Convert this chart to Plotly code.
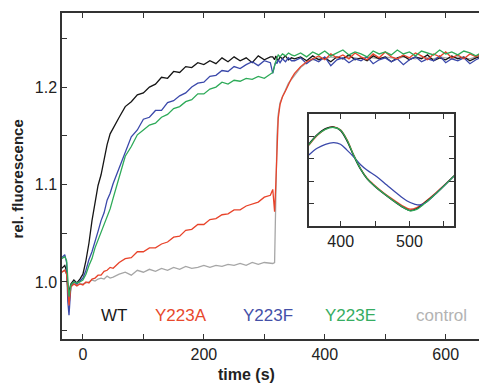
import plotly.graph_objects as go

# time axis (s)
time_s = [-35, -30, -27, -25, -23, -20, -15, -10, -5, 0, 5, 10, 15, 20, 25, 30, 35, 40, 45, 50,
          60, 70, 80, 90, 100, 110, 120, 130, 140, 150, 160, 170, 180, 190, 200, 210, 220, 230, 240, 250,
          260, 270, 280, 290, 300, 310,
          314, 317, 319, 321, 323, 326, 330, 335, 340, 345,
          350, 360, 370, 380, 390, 400, 410, 420, 430, 440, 450, 460, 470, 480, 490, 500, 510, 520, 530,
          540, 550, 560, 570, 580, 590, 600, 610, 620, 630, 640, 650, 660, 665]

wt = [1.014, 1.017, 1.011, 0.995, 0.99, 0.998, 1.002, 0.999, 1.003, 1.008, 1.022, 1.04, 1.063, 1.08, 1.099, 1.11, 1.127, 1.141, 1.152, 1.158,
      1.169, 1.18, 1.185, 1.192, 1.194, 1.2, 1.203, 1.21, 1.209, 1.216, 1.215, 1.221, 1.22, 1.225, 1.223, 1.227, 1.224, 1.23, 1.226, 1.231,
      1.227, 1.23, 1.225, 1.232, 1.228, 1.231,
      1.231, 1.228, 1.232, 1.229, 1.227, 1.231, 1.229, 1.232, 1.228, 1.23,
      1.229, 1.231, 1.227, 1.232, 1.228, 1.23, 1.226, 1.231, 1.229, 1.233, 1.228, 1.23, 1.227, 1.232, 1.229, 1.231, 1.226, 1.23, 1.232,
      1.228, 1.231, 1.229, 1.233, 1.227, 1.23, 1.228, 1.232, 1.229, 1.231, 1.227, 1.23, 1.232, 1.229]

y223a = [1.01, 1.012, 1.008, 0.99, 0.976, 0.995, 0.998, 0.996, 0.998, 0.997, 1.0, 0.999, 1.003, 1.004, 1.007, 1.007, 1.011, 1.012, 1.015, 1.014,
         1.02, 1.024, 1.025, 1.031, 1.031, 1.035, 1.035, 1.039, 1.041, 1.046, 1.047, 1.053, 1.054, 1.059, 1.059, 1.064, 1.065, 1.069, 1.07, 1.074,
         1.074, 1.078, 1.08, 1.082, 1.087, 1.089,
         1.095, 1.072, 1.1, 1.14, 1.168, 1.182, 1.19, 1.196, 1.203, 1.209,
         1.214, 1.221, 1.226, 1.229, 1.232, 1.228, 1.234, 1.23, 1.233, 1.229, 1.235, 1.231, 1.228, 1.234, 1.23, 1.236, 1.231, 1.229, 1.233,
         1.23, 1.235, 1.232, 1.228, 1.234, 1.231, 1.236, 1.23, 1.233, 1.229, 1.234, 1.231, 1.235, 1.232]

y223f = [1.025, 1.028, 1.02, 0.98, 0.966, 0.995, 1.0, 0.998, 1.001, 1.004, 1.012, 1.023, 1.031, 1.043, 1.052, 1.063, 1.071, 1.084, 1.091, 1.101,
         1.117, 1.133, 1.149, 1.156, 1.167, 1.169, 1.176, 1.176, 1.184, 1.186, 1.191, 1.194, 1.2, 1.204, 1.205, 1.211, 1.212, 1.217, 1.216, 1.221,
         1.219, 1.223, 1.226, 1.222, 1.227, 1.225,
         1.214, 1.222, 1.226, 1.224, 1.228, 1.225, 1.229, 1.226, 1.23, 1.227,
         1.227, 1.23, 1.224, 1.229, 1.226, 1.231, 1.222, 1.228, 1.23, 1.225, 1.229, 1.227, 1.231, 1.224, 1.228, 1.23, 1.226, 1.229, 1.223,
         1.228, 1.231, 1.226, 1.229, 1.227, 1.232, 1.225, 1.229, 1.227, 1.23, 1.224, 1.228, 1.231, 1.227]

y223e = [1.024, 1.026, 1.022, 1.0, 0.985, 0.997, 1.0, 0.999, 1.0, 1.002, 1.008, 1.017, 1.024, 1.035, 1.043, 1.051, 1.059, 1.068, 1.075, 1.086,
         1.109, 1.129, 1.139, 1.151, 1.156, 1.161, 1.163, 1.169, 1.172, 1.178, 1.18, 1.185, 1.187, 1.193, 1.193, 1.198, 1.2, 1.205, 1.203, 1.207,
         1.206, 1.209, 1.208, 1.211, 1.209, 1.213,
         1.215, 1.222, 1.227, 1.23, 1.233, 1.231, 1.234, 1.232, 1.235, 1.233,
         1.232, 1.235, 1.231, 1.236, 1.233, 1.237, 1.232, 1.235, 1.238, 1.233, 1.236, 1.234, 1.231, 1.237, 1.234, 1.236, 1.233, 1.238, 1.234,
         1.236, 1.232, 1.237, 1.235, 1.233, 1.238, 1.234, 1.236, 1.233, 1.237, 1.235, 1.232, 1.236, 1.234]

control = [1.01, 1.012, 1.008, 0.99, 0.98, 0.995, 0.998, 0.997, 0.998, 0.998, 0.999, 1.0, 1.002, 1.001, 1.003, 1.004, 1.003, 1.006, 1.004, 1.005,
           1.008, 1.01, 1.007, 1.012, 1.01, 1.013, 1.011, 1.014, 1.012, 1.015, 1.013, 1.016, 1.014, 1.015, 1.017, 1.015, 1.017, 1.016, 1.018, 1.017,
           1.019, 1.017, 1.02, 1.018, 1.02, 1.019,
           1.019, 1.02, 1.11, 1.15, 1.172, 1.184, 1.19, 1.197, 1.204, 1.208,
           1.212, 1.22, 1.225, 1.228, 1.23, 1.229, 1.231, 1.23, 1.229, 1.231, 1.23, 1.229, 1.231, 1.23, 1.229, 1.231, 1.23, 1.229, 1.231,
           1.23, 1.229, 1.231, 1.23, 1.229, 1.231, 1.23, 1.229, 1.231, 1.23, 1.229, 1.231, 1.23, 1.229]

# inset spectra
wl_a = [353.6, 365.7, 377.8, 389.9, 399.6, 409.1, 418.8, 428.6, 438.1, 447.8, 462.3, 476.8, 491.3, 501.0, 510.6, 520.3, 534.8, 549.3, 565.0]
spec_green = [3.62, 4.06, 4.32, 4.40, 4.29, 3.84, 3.17, 2.57, 2.13, 1.83, 1.46, 1.13, 0.83, 0.68, 0.74, 0.96, 1.34, 1.76, 2.24]
spec_black = [3.66, 4.08, 4.35, 4.42, 4.27, 3.80, 3.14, 2.55, 2.12, 1.82, 1.45, 1.12, 0.82, 0.69, 0.77, 0.99, 1.35, 1.77, 2.24]
spec_red = [3.60, 4.04, 4.33, 4.43, 4.30, 3.86, 3.18, 2.58, 2.15, 1.86, 1.49, 1.17, 0.88, 0.75, 0.82, 1.02, 1.38, 1.79, 2.25]
wl_b = [353.6, 365.7, 377.8, 389.9, 399.6, 409.1, 418.8, 428.6, 438.1, 452.6, 467.1, 481.6, 496.0, 508.2, 515.5, 525.1, 534.8, 549.3, 565.0]
spec_blue = [3.17, 3.47, 3.65, 3.72, 3.65, 3.39, 3.09, 2.75, 2.50, 2.20, 1.83, 1.46, 1.13, 0.97, 0.94, 1.07, 1.34, 1.76, 2.24]

main_x_ticks = [0, 100, 200, 300, 400, 500, 600]
main_x_labels = ["0", "", "200", "", "400", "", "600"]
main_y_ticks = [0.95, 1.0, 1.05, 1.1, 1.15, 1.2, 1.25]
main_y_labels = ["", "1.0", "", "1.1", "", "1.2", ""]
inset_x_ticks = [400, 450, 500, 550]
inset_x_labels = ["400", "", "500", ""]
inset_y_ticks = [1, 2, 3, 4]

legend_names = ["WT", "Y223A", "Y223F", "Y223E", "control"]
legend_pos = [51, 163, 306, 443, 593]
legend_colors = ["#1a1a1a", "#e8482c", "#4450a8", "#36ad62", "#b3b3b3"]

C_BLACK, C_RED, C_BLUE, C_GREEN, C_GREY = "#151515", "#e8432a", "#3a48aa", "#2daa58", "#a6a6a6"
FONT = "Liberation Sans, Arial, Helvetica, sans-serif"
AX = "#333333"

fig = go.Figure()
for y, c in [(control, C_GREY), (wt, C_BLACK), (y223f, C_BLUE), (y223a, C_RED), (y223e, C_GREEN)]:
    fig.add_trace(go.Scatter(x=time_s, y=y, mode="lines", line=dict(color=c, width=1.3),
                             showlegend=False, hoverinfo="skip"))

for wl, s, c in [(wl_a, spec_red, C_RED), (wl_a, spec_black, C_BLACK), (wl_b, spec_blue, C_BLUE), (wl_a, spec_green, C_GREEN)]:
    fig.add_trace(go.Scatter(x=wl, y=s, mode="lines", line=dict(color=c, width=1.3, shape="spline"),
                             xaxis="x2", yaxis="y2", showlegend=False, hoverinfo="skip"))

for name, xp, col in zip(legend_names, legend_pos, legend_colors):
    fig.add_annotation(x=xp, y=0.966, xref="x", yref="y", text=name, showarrow=False,
                       xanchor="center", yanchor="middle",
                       font=dict(family=FONT, size=17, color=col))

fig.add_annotation(x=0.435, y=-0.11, xref="paper", yref="paper", text="<b>time (s)</b>", showarrow=False,
                   xanchor="center", yanchor="middle",
                   font=dict(family=FONT, size=16, color="#222"))
fig.add_annotation(x=-0.106, y=0.49, xref="paper", yref="paper", text="<b>rel. fluorescence</b>", showarrow=False,
                   xanchor="center", yanchor="middle",
                   textangle=-90, font=dict(family=FONT, size=15, color="#222"))

axcommon = dict(showline=True, linecolor=AX, linewidth=1.5, mirror="allticks", ticks="inside",
                ticklen=5, tickcolor=AX, tickwidth=1.2, showgrid=False, zeroline=False,
                tickfont=dict(family=FONT, size=16, color="#222"))

# page body has an 8px margin; figure is sized/positioned to compensate
fig.update_layout(
    width=479, height=376,
    margin=dict(l=54, r=0, t=5, b=45),
    paper_bgcolor="white", plot_bgcolor="white",
    xaxis=dict(range=[-34.6, 665], tickmode="array", tickvals=main_x_ticks, ticktext=main_x_labels,
               domain=[0, 1], **axcommon),
    yaxis=dict(range=[0.9415, 1.276], tickmode="array", tickvals=main_y_ticks, ticktext=main_y_labels,
               domain=[0, 1], **axcommon),
    xaxis2=dict(range=[353.6, 565], tickmode="array", tickvals=inset_x_ticks, ticktext=inset_x_labels,
                domain=[0.5835, 0.927], anchor="y2", **axcommon),
    yaxis2=dict(range=[0, 5], tickmode="array", tickvals=inset_y_ticks, showticklabels=False,
                domain=[0.3466, 0.690], anchor="x2", **axcommon),
)

fig.write_html("out.html")
